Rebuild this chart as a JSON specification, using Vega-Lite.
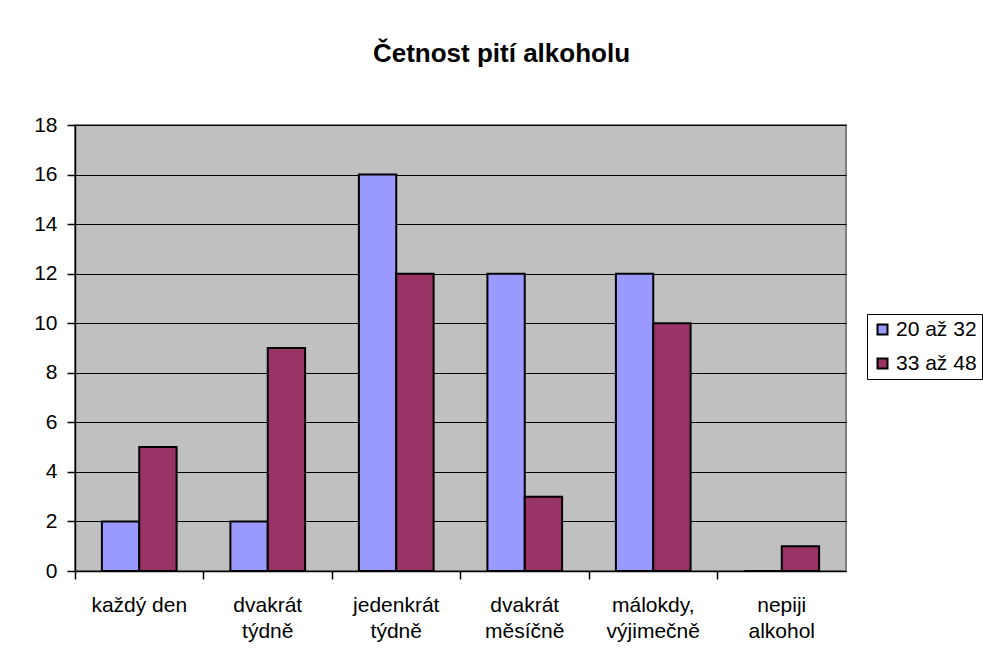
{
  "$schema": "https://vega.github.io/schema/vega-lite/v6.json",
  "width": 771,
  "height": 446,
  "autosize": {"type": "none"},
  "padding": {"left": 75, "top": 125, "right": 137, "bottom": 92},
  "background": "white",
  "title": {
    "text": "Četnost pití alkoholu",
    "font": "Liberation Sans",
    "fontSize": 26,
    "fontWeight": "bold",
    "color": "black",
    "anchor": "middle",
    "baseline": "alphabetic",
    "dx": 41,
    "offset": 26
  },
  "data": {
    "values": [
      {"frekvence": "každý den", "vek": "20 až 32", "pocet": 2},
      {"frekvence": "každý den", "vek": "33 až 48", "pocet": 5},
      {"frekvence": "dvakrát týdně", "vek": "20 až 32", "pocet": 2},
      {"frekvence": "dvakrát týdně", "vek": "33 až 48", "pocet": 9},
      {"frekvence": "jedenkrát týdně", "vek": "20 až 32", "pocet": 16},
      {"frekvence": "jedenkrát týdně", "vek": "33 až 48", "pocet": 12},
      {"frekvence": "dvakrát měsíčně", "vek": "20 až 32", "pocet": 12},
      {"frekvence": "dvakrát měsíčně", "vek": "33 až 48", "pocet": 3},
      {"frekvence": "málokdy, výjimečně", "vek": "20 až 32", "pocet": 12},
      {"frekvence": "málokdy, výjimečně", "vek": "33 až 48", "pocet": 10},
      {"frekvence": "nepiji alkohol", "vek": "20 až 32", "pocet": 0},
      {"frekvence": "nepiji alkohol", "vek": "33 až 48", "pocet": 1}
    ]
  },
  "mark": {"type": "bar", "stroke": "black", "strokeWidth": 2},
  "encoding": {
    "x": {
      "field": "frekvence",
      "type": "nominal",
      "sort": null,
      "title": null,
      "scale": {"paddingInner": 0, "paddingOuter": 0},
      "axis": {
        "bandPosition": 0,
        "labelAngle": 0,
        "labelExpr": "datum.label == 'každý den' ? datum.label : split(datum.label, ' ')",
        "labelPadding": 15,
        "labelLineHeight": 26,
        "labelBaseline": "top",
        "tickSize": 8,
        "grid": false
      }
    },
    "xOffset": {
      "field": "vek",
      "type": "nominal",
      "scale": {"paddingInner": 0, "paddingOuter": 0.72}
    },
    "y": {
      "field": "pocet",
      "type": "quantitative",
      "title": null,
      "scale": {"domain": [0, 18], "nice": false},
      "axis": {
        "values": [0, 2, 4, 6, 8, 10, 12, 14, 16, 18],
        "tickSize": 8,
        "labelPadding": 10,
        "grid": true,
        "gridColor": "black",
        "gridOpacity": 1,
        "gridWidth": 1
      }
    },
    "color": {
      "field": "vek",
      "type": "nominal",
      "title": null,
      "scale": {"domain": ["20 až 32", "33 až 48"], "range": ["#9999FF", "#993366"]},
      "legend": {
        "orient": "none",
        "legendX": 792,
        "legendY": 189,
        "symbolType": "square",
        "symbolSize": 100,
        "symbolStrokeColor": "black",
        "symbolStrokeWidth": 2,
        "symbolOpacity": 1,
        "labelOffset": 3,
        "rowPadding": 12,
        "padding": 5,
        "strokeColor": "black",
        "fillColor": "white",
        "labelFont": "Liberation Sans",
        "labelFontSize": 21,
        "labelColor": "black",
        "labelLimit": 200
      }
    }
  },
  "config": {
    "font": "Liberation Sans",
    "view": {"fill": "#C0C0C0", "stroke": "#808080", "strokeWidth": 2},
    "axis": {
      "labelFont": "Liberation Sans",
      "labelFontSize": 21,
      "labelColor": "black",
      "domainColor": "black",
      "domainWidth": 1.5,
      "tickColor": "black",
      "tickWidth": 1.5
    }
  }
}
